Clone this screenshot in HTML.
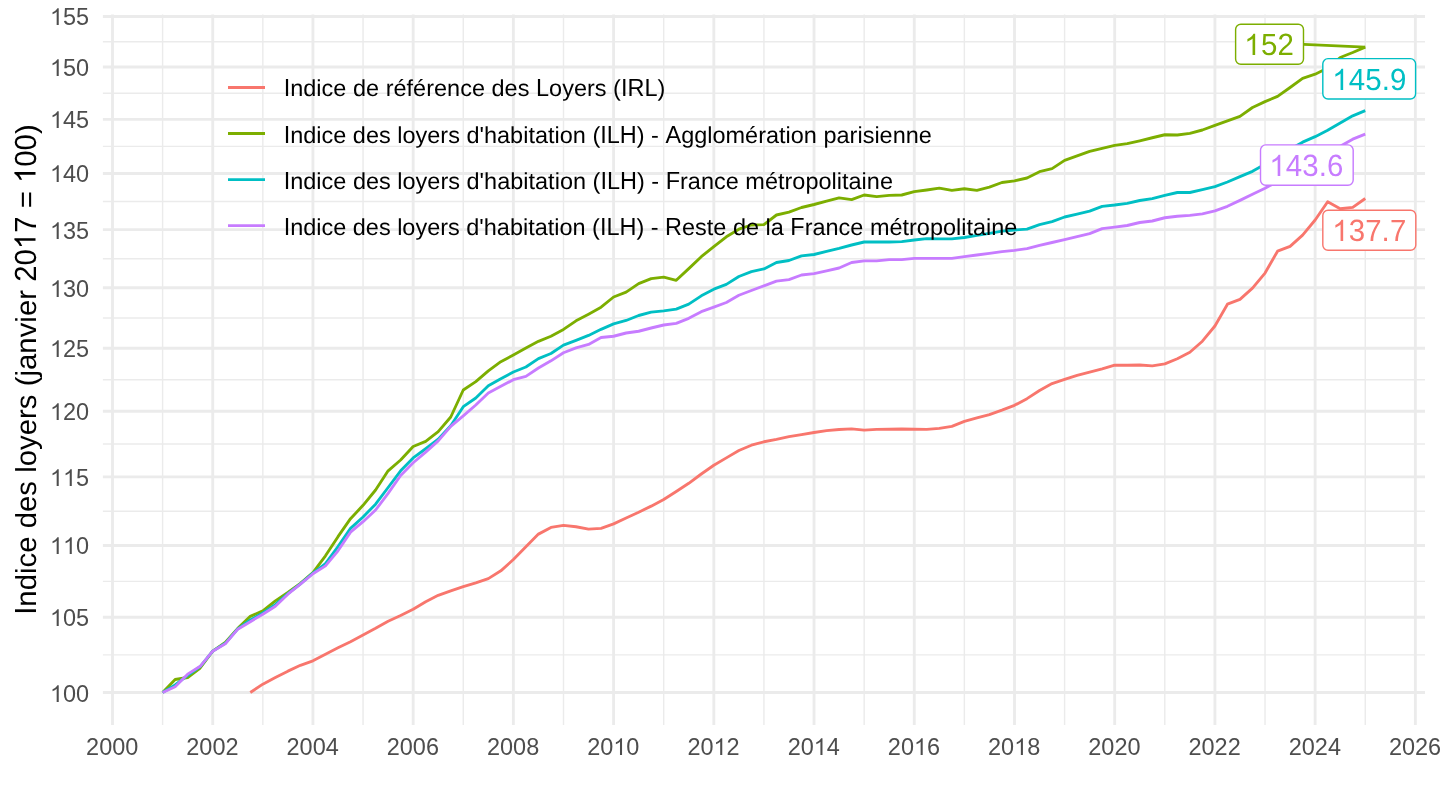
<!DOCTYPE html>
<html lang="fr"><head><meta charset="utf-8"><title>Indice des loyers</title>
<style>html,body{margin:0;padding:0;background:#fff}body{width:1440px;height:810px;overflow:hidden}svg{display:block;will-change:transform}text{font-family:"Liberation Sans",sans-serif}</style></head><body>
<svg width="1440" height="810" viewBox="0 0 1440 810">
<rect width="1440" height="810" fill="#fff"/>
<path d="M102.9 654.87H1425.0M102.9 581.36H1425.0M102.9 511.19H1425.0M102.9 444.08H1425.0M102.9 379.77H1425.0M102.9 318.03H1425.0M102.9 258.67H1425.0M102.9 201.51H1425.0M102.9 146.39H1425.0M102.9 93.18H1425.0M102.9 41.74H1425.0M162.61 14.5V724.9M262.83 14.5V724.9M363.05 14.5V724.9M463.27 14.5V724.9M563.49 14.5V724.9M663.71 14.5V724.9M763.93 14.5V724.9M864.15 14.5V724.9M964.37 14.5V724.9M1064.59 14.5V724.9M1164.81 14.5V724.9M1265.03 14.5V724.9M1365.25 14.5V724.9" stroke="#EBEBEB" stroke-width="1.425" fill="none"/>
<path d="M102.9 692.50H1425.0M102.9 617.24H1425.0M102.9 545.48H1425.0M102.9 476.91H1425.0M102.9 411.25H1425.0M102.9 348.28H1425.0M102.9 287.78H1425.0M102.9 229.56H1425.0M102.9 173.46H1425.0M102.9 119.33H1425.0M102.9 67.03H1425.0M102.9 16.45H1425.0M112.50 14.5V724.9M212.72 14.5V724.9M312.94 14.5V724.9M413.16 14.5V724.9M513.38 14.5V724.9M613.60 14.5V724.9M713.82 14.5V724.9M814.04 14.5V724.9M914.26 14.5V724.9M1014.48 14.5V724.9M1114.70 14.5V724.9M1214.92 14.5V724.9M1315.14 14.5V724.9M1415.36 14.5V724.9" stroke="#EBEBEB" stroke-width="2.85" fill="none"/>
<g transform="translate(49.99,702)" fill="#4D4D4D" role="img" aria-label="100"><title>100</title><text font-size="23.47" x="13.05 26.11" y="0" xml:space="preserve">00</text><path d="M763 0H583V1147Q518 1085 412.5 1023Q307 961 223 930V1104Q374 1175 487 1276Q600 1377 647 1472H763Z" transform="translate(0,0) scale(0.01146,-0.01146)"/></g>
<g transform="translate(49.99,626)" fill="#4D4D4D" role="img" aria-label="105"><title>105</title><text font-size="23.47" x="13.05 26.11" y="0" xml:space="preserve">05</text><path d="M763 0H583V1147Q518 1085 412.5 1023Q307 961 223 930V1104Q374 1175 487 1276Q600 1377 647 1472H763Z" transform="translate(0,0) scale(0.01146,-0.01146)"/></g>
<g transform="translate(49.99,554)" fill="#4D4D4D" role="img" aria-label="110"><title>110</title><text font-size="23.47" x="26.11" y="0" xml:space="preserve">0</text><path d="M763 0H583V1147Q518 1085 412.5 1023Q307 961 223 930V1104Q374 1175 487 1276Q600 1377 647 1472H763Z" transform="translate(0,0) scale(0.01146,-0.01146)"/><path d="M763 0H583V1147Q518 1085 412.5 1023Q307 961 223 930V1104Q374 1175 487 1276Q600 1377 647 1472H763Z" transform="translate(13.05,0) scale(0.01146,-0.01146)"/></g>
<g transform="translate(49.99,486)" fill="#4D4D4D" role="img" aria-label="115"><title>115</title><text font-size="23.47" x="26.11" y="0" xml:space="preserve">5</text><path d="M763 0H583V1147Q518 1085 412.5 1023Q307 961 223 930V1104Q374 1175 487 1276Q600 1377 647 1472H763Z" transform="translate(0,0) scale(0.01146,-0.01146)"/><path d="M763 0H583V1147Q518 1085 412.5 1023Q307 961 223 930V1104Q374 1175 487 1276Q600 1377 647 1472H763Z" transform="translate(13.05,0) scale(0.01146,-0.01146)"/></g>
<g transform="translate(49.99,420)" fill="#4D4D4D" role="img" aria-label="120"><title>120</title><text font-size="23.47" x="13.05 26.11" y="0" xml:space="preserve">20</text><path d="M763 0H583V1147Q518 1085 412.5 1023Q307 961 223 930V1104Q374 1175 487 1276Q600 1377 647 1472H763Z" transform="translate(0,0) scale(0.01146,-0.01146)"/></g>
<g transform="translate(49.99,357)" fill="#4D4D4D" role="img" aria-label="125"><title>125</title><text font-size="23.47" x="13.05 26.11" y="0" xml:space="preserve">25</text><path d="M763 0H583V1147Q518 1085 412.5 1023Q307 961 223 930V1104Q374 1175 487 1276Q600 1377 647 1472H763Z" transform="translate(0,0) scale(0.01146,-0.01146)"/></g>
<g transform="translate(49.99,297)" fill="#4D4D4D" role="img" aria-label="130"><title>130</title><text font-size="23.47" x="13.05 26.11" y="0" xml:space="preserve">30</text><path d="M763 0H583V1147Q518 1085 412.5 1023Q307 961 223 930V1104Q374 1175 487 1276Q600 1377 647 1472H763Z" transform="translate(0,0) scale(0.01146,-0.01146)"/></g>
<g transform="translate(49.99,239)" fill="#4D4D4D" role="img" aria-label="135"><title>135</title><text font-size="23.47" x="13.05 26.11" y="0" xml:space="preserve">35</text><path d="M763 0H583V1147Q518 1085 412.5 1023Q307 961 223 930V1104Q374 1175 487 1276Q600 1377 647 1472H763Z" transform="translate(0,0) scale(0.01146,-0.01146)"/></g>
<g transform="translate(49.99,182)" fill="#4D4D4D" role="img" aria-label="140"><title>140</title><text font-size="23.47" x="13.05 26.11" y="0" xml:space="preserve">40</text><path d="M763 0H583V1147Q518 1085 412.5 1023Q307 961 223 930V1104Q374 1175 487 1276Q600 1377 647 1472H763Z" transform="translate(0,0) scale(0.01146,-0.01146)"/></g>
<g transform="translate(49.99,128)" fill="#4D4D4D" role="img" aria-label="145"><title>145</title><text font-size="23.47" x="13.05 26.11" y="0" xml:space="preserve">45</text><path d="M763 0H583V1147Q518 1085 412.5 1023Q307 961 223 930V1104Q374 1175 487 1276Q600 1377 647 1472H763Z" transform="translate(0,0) scale(0.01146,-0.01146)"/></g>
<g transform="translate(49.99,76)" fill="#4D4D4D" role="img" aria-label="150"><title>150</title><text font-size="23.47" x="13.05 26.11" y="0" xml:space="preserve">50</text><path d="M763 0H583V1147Q518 1085 412.5 1023Q307 961 223 930V1104Q374 1175 487 1276Q600 1377 647 1472H763Z" transform="translate(0,0) scale(0.01146,-0.01146)"/></g>
<g transform="translate(49.99,25)" fill="#4D4D4D" role="img" aria-label="155"><title>155</title><text font-size="23.47" x="13.05 26.11" y="0" xml:space="preserve">55</text><path d="M763 0H583V1147Q518 1085 412.5 1023Q307 961 223 930V1104Q374 1175 487 1276Q600 1377 647 1472H763Z" transform="translate(0,0) scale(0.01146,-0.01146)"/></g>
<g transform="translate(86.09,755)" fill="#4D4D4D" role="img" aria-label="2000"><title>2000</title><text font-size="23.47" x="0 13.05 26.11 39.16" y="0" xml:space="preserve">2000</text></g>
<g transform="translate(186.31,755)" fill="#4D4D4D" role="img" aria-label="2002"><title>2002</title><text font-size="23.47" x="0 13.05 26.11 39.16" y="0" xml:space="preserve">2002</text></g>
<g transform="translate(286.53,755)" fill="#4D4D4D" role="img" aria-label="2004"><title>2004</title><text font-size="23.47" x="0 13.05 26.11 39.16" y="0" xml:space="preserve">2004</text></g>
<g transform="translate(386.75,755)" fill="#4D4D4D" role="img" aria-label="2006"><title>2006</title><text font-size="23.47" x="0 13.05 26.11 39.16" y="0" xml:space="preserve">2006</text></g>
<g transform="translate(486.97,755)" fill="#4D4D4D" role="img" aria-label="2008"><title>2008</title><text font-size="23.47" x="0 13.05 26.11 39.16" y="0" xml:space="preserve">2008</text></g>
<g transform="translate(587.19,755)" fill="#4D4D4D" role="img" aria-label="2010"><title>2010</title><text font-size="23.47" x="0 13.05 39.16" y="0" xml:space="preserve">200</text><path d="M763 0H583V1147Q518 1085 412.5 1023Q307 961 223 930V1104Q374 1175 487 1276Q600 1377 647 1472H763Z" transform="translate(26.11,0) scale(0.01146,-0.01146)"/></g>
<g transform="translate(687.41,755)" fill="#4D4D4D" role="img" aria-label="2012"><title>2012</title><text font-size="23.47" x="0 13.05 39.16" y="0" xml:space="preserve">202</text><path d="M763 0H583V1147Q518 1085 412.5 1023Q307 961 223 930V1104Q374 1175 487 1276Q600 1377 647 1472H763Z" transform="translate(26.11,0) scale(0.01146,-0.01146)"/></g>
<g transform="translate(787.63,755)" fill="#4D4D4D" role="img" aria-label="2014"><title>2014</title><text font-size="23.47" x="0 13.05 39.16" y="0" xml:space="preserve">204</text><path d="M763 0H583V1147Q518 1085 412.5 1023Q307 961 223 930V1104Q374 1175 487 1276Q600 1377 647 1472H763Z" transform="translate(26.11,0) scale(0.01146,-0.01146)"/></g>
<g transform="translate(887.85,755)" fill="#4D4D4D" role="img" aria-label="2016"><title>2016</title><text font-size="23.47" x="0 13.05 39.16" y="0" xml:space="preserve">206</text><path d="M763 0H583V1147Q518 1085 412.5 1023Q307 961 223 930V1104Q374 1175 487 1276Q600 1377 647 1472H763Z" transform="translate(26.11,0) scale(0.01146,-0.01146)"/></g>
<g transform="translate(988.07,755)" fill="#4D4D4D" role="img" aria-label="2018"><title>2018</title><text font-size="23.47" x="0 13.05 39.16" y="0" xml:space="preserve">208</text><path d="M763 0H583V1147Q518 1085 412.5 1023Q307 961 223 930V1104Q374 1175 487 1276Q600 1377 647 1472H763Z" transform="translate(26.11,0) scale(0.01146,-0.01146)"/></g>
<g transform="translate(1088.29,755)" fill="#4D4D4D" role="img" aria-label="2020"><title>2020</title><text font-size="23.47" x="0 13.05 26.11 39.16" y="0" xml:space="preserve">2020</text></g>
<g transform="translate(1188.51,755)" fill="#4D4D4D" role="img" aria-label="2022"><title>2022</title><text font-size="23.47" x="0 13.05 26.11 39.16" y="0" xml:space="preserve">2022</text></g>
<g transform="translate(1288.73,755)" fill="#4D4D4D" role="img" aria-label="2024"><title>2024</title><text font-size="23.47" x="0 13.05 26.11 39.16" y="0" xml:space="preserve">2024</text></g>
<g transform="translate(1388.95,755)" fill="#4D4D4D" role="img" aria-label="2026"><title>2026</title><text font-size="23.47" x="0 13.05 26.11 39.16" y="0" xml:space="preserve">2026</text></g>
<g transform="translate(35.5,614.81) rotate(-90)" fill="#000" role="img" aria-label="Indice des loyers (janvier 2017 = 100)"><title>Indice des loyers (janvier 2017 = 100)</title><g transform="scale(1,0.9850)"><text font-size="29.33" style="text-rendering:geometricPrecision" x="8.16 24.49 40.82 47.35 62.03 78.36 86.53 102.86 119.18 133.86 142.03 148.56 164.89 179.57 195.9 205.68 220.36 228.53 238.31 244.84 261.17 277.5 292.18 298.71 315.04 324.82 398.3 406.47 423.61 480.76" y="0" xml:space="preserve">ndice des loyers (janvier  = )</text></g><g transform="scale(1,1.0412)"><text font-size="29.33" style="text-rendering:geometricPrecision" x="0 332.99 349.32 381.97 448.1 464.43" y="0" xml:space="preserve">I20700</text></g><path d="M763 0H583V1147Q518 1085 412.5 1023Q307 961 223 930V1104Q374 1175 487 1276Q600 1377 647 1472H763Z" transform="translate(365.64,0) scale(0.01432,-0.01432)"/><path d="M763 0H583V1147Q518 1085 412.5 1023Q307 961 223 930V1104Q374 1175 487 1276Q600 1377 647 1472H763Z" transform="translate(431.77,0) scale(0.01432,-0.01432)"/></g>
<path d="M250.30 692.50L262.83 684.16L275.36 677.50L287.88 671.16L300.41 665.33L312.94 660.84L325.47 654.17L338.00 647.83L350.52 641.67L363.05 635.00L375.58 628.33L388.11 621.25L400.63 615.51L413.16 609.16L425.69 601.67L438.21 595.33L450.74 590.83L463.27 586.66L475.80 582.84L488.32 578.66L500.85 570.83L513.38 559.49L525.91 546.82L538.43 534.12L550.96 527.41L563.49 525.30L576.02 526.74L588.55 529.11L601.07 528.32L613.60 523.86L626.13 517.98L638.65 512.25L651.18 506.15L663.71 499.44L676.24 491.47L688.76 483.29L701.29 474.01L713.82 465.28L726.35 457.87L738.88 450.48L751.40 445.24L763.93 441.76L776.46 439.40L788.99 436.68L801.51 434.58L814.04 432.48L826.57 430.63L839.10 429.52L851.62 428.90L864.15 430.14L876.68 429.39L889.21 429.28L901.73 429.03L914.26 429.28L926.79 429.39L939.31 428.42L951.84 426.33L964.37 421.42L976.90 417.86L989.42 414.57L1001.95 410.19L1014.48 405.33L1027.01 398.67L1039.53 390.48L1052.06 383.53L1064.59 379.36L1077.12 375.31L1089.64 372.10L1102.17 368.89L1114.70 365.23L1127.23 365.23L1139.75 364.99L1152.28 365.82L1164.81 363.81L1177.34 358.74L1189.87 352.28L1202.39 341.20L1214.92 326.03L1227.45 304.19L1239.97 299.32L1252.50 288.15L1265.03 273.05L1277.56 251.17L1290.09 246.36L1302.61 235.12L1315.14 220.00L1327.67 201.72L1340.19 208.75L1352.72 207.36L1365.25 198.53" stroke="#F8766D" stroke-width="2.85" fill="none" stroke-linejoin="round"/>
<path d="M162.61 692.50L175.14 679.51L187.66 677.50L200.19 668.00L212.72 651.16L225.25 642.49L237.78 628.33L250.30 616.33L262.83 610.83L275.36 600.83L287.88 592.51L300.41 583.34L312.94 572.67L325.47 555.83L338.00 536.67L350.52 518.67L363.05 505.33L375.58 490.00L388.11 470.83L400.63 460.00L413.16 446.50L425.69 441.33L438.21 431.67L450.74 417.00L463.27 390.00L475.80 381.66L488.32 370.83L500.85 361.67L513.38 355.00L525.91 348.00L538.43 341.34L550.96 336.25L563.49 329.42L576.02 320.83L588.55 314.17L601.07 307.17L613.60 297.00L626.13 292.16L638.65 283.67L651.18 278.67L663.71 277.17L676.24 280.33L688.76 268.66L701.29 256.66L713.82 246.67L726.35 236.83L738.88 229.17L751.40 225.00L763.93 224.67L776.46 215.00L788.99 212.16L801.51 207.49L814.04 204.50L826.57 201.17L839.10 197.84L851.62 199.66L864.15 195.00L876.68 196.66L889.21 195.33L901.73 195.00L914.26 191.67L926.79 190.00L939.31 188.16L951.84 190.41L964.37 188.75L976.90 190.33L989.42 187.16L1001.95 182.50L1014.48 180.84L1027.01 178.00L1039.53 171.67L1052.06 168.66L1064.59 160.34L1077.12 155.83L1089.64 151.33L1102.17 148.33L1114.70 145.33L1127.23 143.67L1139.75 140.83L1152.28 137.75L1164.81 134.75L1177.34 135.00L1189.87 133.33L1202.39 130.00L1214.92 125.33L1227.45 120.83L1239.97 116.33L1252.50 107.50L1265.03 101.66L1277.56 96.33L1290.09 87.50L1302.61 78.33L1315.14 74.16L1327.67 68.00L1340.19 57.50L1352.72 52.50L1365.25 47.17" stroke="#7CAE00" stroke-width="2.85" fill="none" stroke-linejoin="round"/>
<path d="M162.61 692.50L175.14 684.99L187.66 675.34L200.19 666.67L212.72 651.16L225.25 643.33L237.78 628.83L250.30 620.00L262.83 613.00L275.36 604.67L287.88 593.66L300.41 583.83L312.94 573.17L325.47 563.66L338.00 546.67L350.52 528.34L363.05 517.01L375.58 504.16L388.11 487.50L400.63 470.83L413.16 457.92L425.69 448.75L438.21 439.17L450.74 425.83L463.27 406.67L475.80 398.00L488.32 385.83L500.85 378.66L513.38 372.00L525.91 367.00L538.43 358.67L550.96 353.50L563.49 345.16L576.02 340.42L588.55 335.41L601.07 329.33L613.60 323.83L626.13 320.49L638.65 315.50L651.18 312.17L663.71 310.83L676.24 309.17L688.76 304.17L701.29 295.83L713.82 289.17L726.35 284.41L738.88 276.50L751.40 271.67L763.93 268.92L776.46 262.50L788.99 260.50L801.51 255.84L814.04 254.50L826.57 251.33L839.10 248.33L851.62 245.00L864.15 242.00L876.68 242.00L889.21 242.00L901.73 241.66L914.26 240.01L926.79 238.67L939.31 238.91L951.84 238.91L964.37 237.50L976.90 235.33L989.42 233.34L1001.95 231.16L1014.48 229.99L1027.01 229.17L1039.53 224.67L1052.06 221.66L1064.59 217.00L1077.12 214.17L1089.64 211.17L1102.17 206.33L1114.70 205.00L1127.23 203.33L1139.75 200.50L1152.28 198.67L1164.81 195.33L1177.34 192.50L1189.87 192.50L1202.39 189.66L1214.92 186.66L1227.45 182.00L1239.97 176.67L1252.50 171.33L1265.03 164.17L1277.56 156.67L1290.09 149.33L1302.61 142.17L1315.14 136.67L1327.67 130.34L1340.19 123.00L1352.72 115.83L1365.25 110.67" stroke="#00BFC4" stroke-width="2.85" fill="none" stroke-linejoin="round"/>
<path d="M162.61 692.50L175.14 686.67L187.66 674.16L200.19 666.33L212.72 651.16L225.25 643.84L237.78 629.17L250.30 621.67L262.83 614.17L275.36 606.33L287.88 594.17L300.41 584.17L312.94 573.75L325.47 565.83L338.00 550.83L350.52 532.17L363.05 521.67L375.58 510.00L388.11 493.33L400.63 475.50L413.16 462.75L425.69 452.09L438.21 440.83L450.74 426.33L463.27 415.84L475.80 405.01L488.32 393.00L500.85 386.34L513.38 379.67L525.91 376.34L538.43 368.00L550.96 360.83L563.49 352.75L576.02 347.91L588.55 344.41L601.07 337.50L613.60 336.25L626.13 333.00L638.65 331.25L651.18 328.00L663.71 325.00L676.24 323.33L688.76 318.34L701.29 311.67L713.82 307.17L726.35 302.50L738.88 295.25L751.40 290.50L763.93 285.83L776.46 281.09L788.99 279.58L801.51 275.00L814.04 273.66L826.57 270.83L839.10 267.99L851.62 262.50L864.15 260.83L876.68 260.83L889.21 259.66L901.73 259.66L914.26 258.34L926.79 258.34L939.31 258.34L951.84 258.34L964.37 256.66L976.90 255.00L989.42 253.34L1001.95 251.67L1014.48 250.34L1027.01 248.67L1039.53 245.33L1052.06 242.50L1064.59 239.67L1077.12 236.66L1089.64 233.67L1102.17 228.67L1114.70 227.16L1127.23 225.50L1139.75 222.50L1152.28 221.00L1164.81 217.75L1177.34 216.25L1189.87 215.33L1202.39 213.84L1214.92 210.83L1227.45 206.33L1239.97 200.34L1252.50 194.17L1265.03 188.33L1277.56 181.34L1290.09 174.33L1302.61 167.33L1315.14 160.34L1327.67 153.33L1340.19 146.17L1352.72 139.17L1365.25 134.17" stroke="#C77CFF" stroke-width="2.85" fill="none" stroke-linejoin="round"/>
<path d="M228 87.45H265" stroke="#F8766D" stroke-width="2.85"/>
<g transform="translate(283.63,96)" fill="#000" role="img" aria-label="Indice de référence des Loyers (IRL)"><title>Indice de référence des Loyers (IRL)</title><g transform="scale(1,0.9850)"><text font-size="23.47" style="text-rendering:geometricPrecision" x="6.54 19.62 32.69 37.93 49.69 62.76 69.31 82.38 95.46 102 109.84 122.92 129.46 142.54 150.37 163.45 176.52 188.28 201.36 207.9 220.98 234.05 245.81 265.43 278.5 290.26 303.34 311.18 322.93 329.48 373.91" y="0" xml:space="preserve">ndice de référence des oyers ()</text></g><text font-size="23.47" x="0 252.35 337.31 343.86 360.83" y="0" xml:space="preserve">ILIRL</text></g>
<path d="M228 133.53H265" stroke="#7CAE00" stroke-width="2.85"/>
<g transform="translate(283.63,143)" fill="#000" role="img" aria-label="Indice des loyers d'habitation (ILH) - Agglomération parisienne"><title>Indice des loyers d'habitation (ILH) - Agglomération parisienne</title><g transform="scale(1,0.9850)"><text font-size="23.47" style="text-rendering:geometricPrecision" x="6.53 19.59 32.65 37.88 49.62 62.68 69.21 82.27 95.34 107.08 113.61 118.83 131.9 143.64 156.7 164.53 176.27 182.8 195.86 200.35 213.41 226.48 239.54 244.76 251.29 264.35 270.88 276.11 289.17 302.23 308.76 353.13 360.96 367.49 375.31 397.51 410.57 423.63 428.85 441.92 461.48 474.54 482.36 495.42 501.95 507.18 520.24 533.3 539.83 552.89 565.95 573.78 579 590.75 595.97 609.03 622.09 635.16" y="0" xml:space="preserve">ndice des loyers d'habitation () - gglomération parisienne</text></g><text font-size="23.47" x="0 316.58 323.11 336.18 381.84" y="0" xml:space="preserve">IILHA</text></g>
<path d="M228 179.61H265" stroke="#00BFC4" stroke-width="2.85"/>
<g transform="translate(283.63,189)" fill="#000" role="img" aria-label="Indice des loyers d'habitation (ILH) - France métropolitaine"><title>Indice des loyers d'habitation (ILH) - France métropolitaine</title><g transform="scale(1,0.9850)"><text font-size="23.47" style="text-rendering:geometricPrecision" x="6.53 19.6 32.67 37.9 49.65 62.71 69.25 82.31 95.38 107.13 113.67 118.89 131.96 143.71 156.78 164.61 176.36 182.89 195.96 200.45 213.52 226.59 239.65 244.88 251.42 264.48 271.02 276.25 289.31 302.38 308.92 353.31 361.14 367.68 375.5 396.39 404.22 417.29 430.35 442.1 455.17 461.7 481.27 494.34 500.87 508.7 521.77 534.84 547.9 553.13 558.36 564.89 577.96 583.19 596.26" y="0" xml:space="preserve">ndice des loyers d'habitation () - rance métropolitaine</text></g><text font-size="23.47" x="0 316.75 323.28 336.35 382.04" y="0" xml:space="preserve">IILHF</text></g>
<path d="M228 225.69H265" stroke="#C77CFF" stroke-width="2.85"/>
<g transform="translate(283.63,235)" fill="#000" role="img" aria-label="Indice des loyers d'habitation (ILH) - Reste de la France métropolitaine"><title>Indice des loyers d'habitation (ILH) - Reste de la France métropolitaine</title><g transform="scale(1,0.9850)"><text font-size="23.47" style="text-rendering:geometricPrecision" x="6.52 19.57 32.63 37.84 49.57 62.63 69.15 82.2 95.25 106.99 113.51 118.72 131.78 143.51 156.56 164.38 176.11 182.63 195.69 200.17 213.22 226.27 239.32 244.54 251.06 264.11 270.63 275.85 288.9 301.95 308.47 352.81 360.63 367.15 374.96 398.43 411.48 423.22 429.74 442.79 449.31 462.37 475.42 481.94 487.15 500.21 521.06 528.88 541.93 554.98 566.72 579.77 586.29 605.84 618.89 625.41 633.23 646.28 659.34 672.39 677.6 682.82 689.34 702.39 707.6 720.66" y="0" xml:space="preserve">ndice des loyers d'habitation () - este de la rance métropolitaine</text></g><text font-size="23.47" x="0 316.29 322.81 335.86 381.48 506.73" y="0" xml:space="preserve">IILHRF</text></g>
<path d="M1303.70 44.35L1365.25 47.17" stroke="#7CAE00" stroke-width="2.85" fill="none"/>
<rect x="1235.61" y="24.31" width="67.88" height="39.88" rx="5.2" fill="#fff" stroke="#7CAE00" stroke-width="1.42"/>
<g transform="translate(1244.19,55)" fill="#7CAE00" role="img" aria-label="152"><title>152</title><g transform="scale(1,1.0412)"><text font-size="29.44" style="text-rendering:geometricPrecision" x="16.71 33.41" y="0" xml:space="preserve">52</text></g><path d="M763 0H583V1147Q518 1085 412.5 1023Q307 961 223 930V1104Q374 1175 487 1276Q600 1377 647 1472H763Z" transform="translate(0,0) scale(0.01438,-0.01438)"/></g>
<rect x="1322.81" y="58.61" width="92.78" height="40.43" rx="5.2" fill="#fff" stroke="#00BFC4" stroke-width="1.42"/>
<g transform="translate(1332.19,90)" fill="#00BFC4" role="img" aria-label="145.9"><title>145.9</title><g transform="scale(1,1.0412)"><text font-size="29.44" style="text-rendering:geometricPrecision" x="16.51 33.01 49.52 57.83" y="0" xml:space="preserve">45.9</text></g><path d="M763 0H583V1147Q518 1085 412.5 1023Q307 961 223 930V1104Q374 1175 487 1276Q600 1377 647 1472H763Z" transform="translate(0,0) scale(0.01438,-0.01438)"/></g>
<rect x="1260.51" y="144.91" width="92.68" height="40.38" rx="5.2" fill="#fff" stroke="#C77CFF" stroke-width="1.42"/>
<g transform="translate(1269.29,176)" fill="#C77CFF" role="img" aria-label="143.6"><title>143.6</title><g transform="scale(1,1.0412)"><text font-size="29.44" style="text-rendering:geometricPrecision" x="16.48 32.96 49.44 57.73" y="0" xml:space="preserve">43.6</text></g><path d="M763 0H583V1147Q518 1085 412.5 1023Q307 961 223 930V1104Q374 1175 487 1276Q600 1377 647 1472H763Z" transform="translate(0,0) scale(0.01438,-0.01438)"/></g>
<rect x="1322.81" y="210.31" width="92.98" height="39.98" rx="5.2" fill="#fff" stroke="#F8766D" stroke-width="1.42"/>
<g transform="translate(1332.19,241)" fill="#F8766D" role="img" aria-label="137.7"><title>137.7</title><g transform="scale(1,1.0412)"><text font-size="29.44" style="text-rendering:geometricPrecision" x="16.48 32.95 49.43 57.71" y="0" xml:space="preserve">37.7</text></g><path d="M763 0H583V1147Q518 1085 412.5 1023Q307 961 223 930V1104Q374 1175 487 1276Q600 1377 647 1472H763Z" transform="translate(0,0) scale(0.01438,-0.01438)"/></g>
</svg></body></html>
